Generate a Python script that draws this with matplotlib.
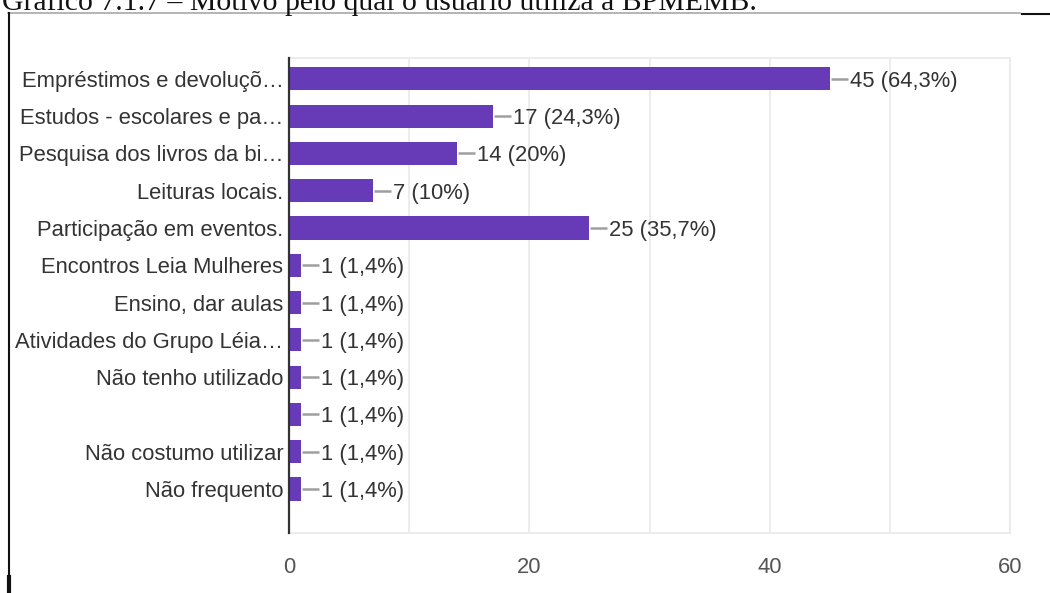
import matplotlib
matplotlib.use("Agg")
import matplotlib.pyplot as plt
from matplotlib.lines import Line2D

categories = [
    "Empréstimos e devoluçõ…",
    "Estudos - escolares e pa…",
    "Pesquisa dos livros da bi…",
    "Leituras locais.",
    "Participação em eventos.",
    "Encontros Leia Mulheres",
    "Ensino, dar aulas",
    "Atividades do Grupo Léia…",
    "Não tenho utilizado",
    "",
    "Não costumo utilizar",
    "Não frequento",
]
counts = [45, 17, 14, 7, 25, 1, 1, 1, 1, 1, 1, 1]
percents = ["64,3%", "24,3%", "20%", "10%", "35,7%", "1,4%", "1,4%", "1,4%",
            "1,4%", "1,4%", "1,4%", "1,4%"]
xticks = [0, 20, 40, 60]
title = "Gráfico 7.1.7 – Motivo pelo qual o usuário utiliza a BPMEMB."

FONT = ["Liberation Sans", "DejaVu Sans"]
FS = 15.8

W, H = 1050, 593
fig = plt.figure(figsize=(W / 100, H / 100), dpi=100)
fig.patch.set_facecolor("white")

left, right, top, bottom = 289, 1010, 58, 533
ax = fig.add_axes([left / W, 1 - bottom / H, (right - left) / W, (bottom - top) / H])

bar_color = "#673ab7"
n = len(categories)
ypos = list(range(n))
ax.barh(ypos, counts, height=0.62, color=bar_color, zorder=3)

ax.set_xlim(0, 60)
ax.set_ylim(n - 1 + 1.18, -0.56)

ax.set_xticks(xticks)
ax.set_xticks(range(0, 61, 10), minor=True)
ax.xaxis.grid(True, which="both", color="#ebebeb", linewidth=1.3, zorder=0)
ax.tick_params(axis="x", which="both", length=0, pad=17, labelsize=FS, labelcolor="#555555")
for lab in ax.get_xticklabels():
    lab.set_fontfamily(FONT)

ax.set_yticks(ypos)
ax.set_yticklabels(categories, fontfamily=FONT, fontsize=FS, color="#333333")
ax.tick_params(axis="y", length=0, pad=4)

for s in ["top", "bottom", "right"]:
    ax.spines[s].set_color("#ebebeb")
    ax.spines[s].set_linewidth(1.3)
ax.spines["left"].set_color("#333333")
ax.spines["left"].set_linewidth(1.6)
ax.spines["left"].set_zorder(5)

px = 60 / (right - left)  # data units per pixel
for i, (c, p) in enumerate(zip(counts, percents)):
    ax.plot([c + 1 * px, c + 18 * px], [i, i], color="#9e9e9e", linewidth=1.8, zorder=4,
            solid_capstyle="butt")
    ax.text(c + 20 * px, i, f"{c} ({p})", va="center_baseline", ha="left",
            fontfamily=FONT, fontsize=FS, color="#333333", zorder=4)

# document frame decoration
ov = fig.add_axes([0, 0, 1, 1], zorder=-1)
ov.set_xlim(0, W)
ov.set_ylim(H, 0)
ov.axis("off")
ov.add_line(Line2D([8, 1020], [13, 13], color="#a8a8a8", linewidth=1.2))
ov.add_line(Line2D([1022, 1050], [14, 14], color="#111111", linewidth=1.5))
ov.add_line(Line2D([8.5, 8.5], [13, 576], color="#111111", linewidth=1.5))
ov.add_line(Line2D([9, 9], [577, 593], color="#111111", linewidth=3))

fig.text(2 / W, 1 - 10 / H, title, fontfamily=["Liberation Serif", "DejaVu Serif"],
         fontsize=21.4, color="#111111", ha="left", va="baseline")

fig.savefig("out.png", dpi=100, facecolor="white")
